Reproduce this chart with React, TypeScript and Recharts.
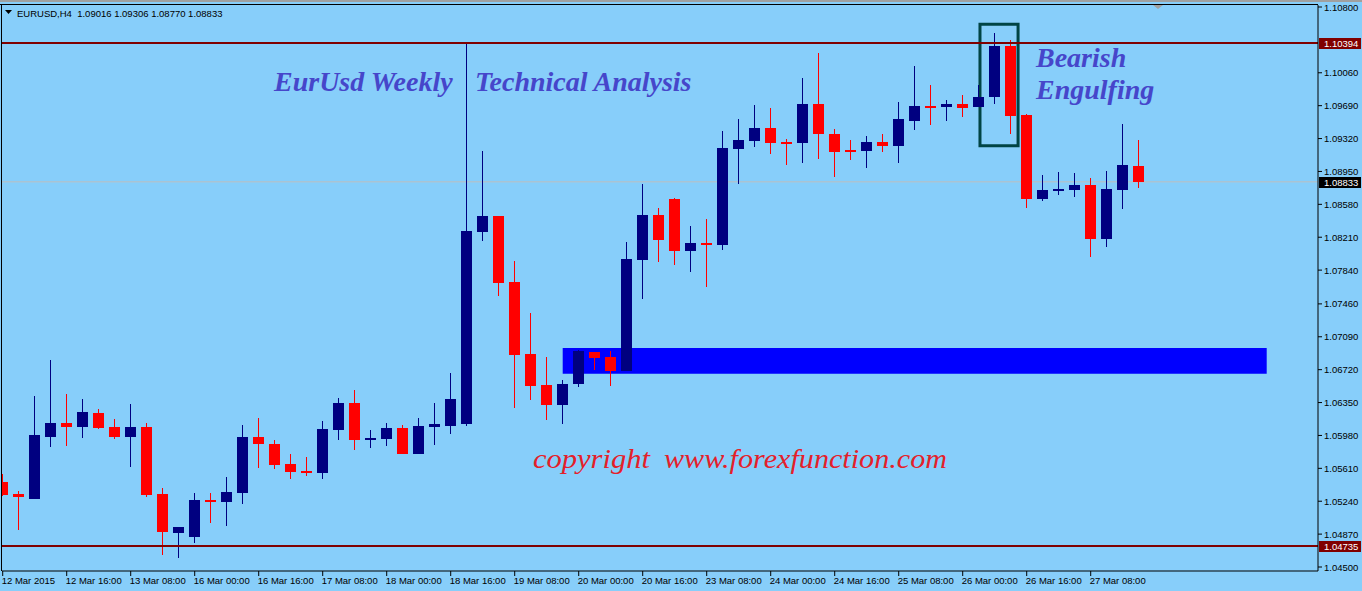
import { ComposedChart, Bar, XAxis, YAxis, ReferenceLine, ReferenceArea } from "recharts"

// EURUSD H4, 12 Mar 2015 - 27 Mar 2015
const days = ["12 Mar", "13 Mar", "16 Mar", "17 Mar", "18 Mar", "19 Mar", "20 Mar", "23 Mar", "24 Mar", "25 Mar", "26 Mar", "27 Mar"]
const hours = ["00:00", "04:00", "08:00", "12:00", "16:00", "20:00"]
const times = days.flatMap((d) => hours.map((h) => `${d} ${h}`))

const opens = [
  1.05456, 1.05321, 1.05268, 1.05966, 1.0612, 1.06078, 1.06232, 1.06075, 1.05966, 1.06075,
  1.05321, 1.04886, 1.04841, 1.05254, 1.05231, 1.05336, 1.05962, 1.05884, 1.05659, 1.0558,
  1.05561, 1.06045, 1.06345, 1.05932, 1.05943, 1.06064, 1.05775, 1.06078, 1.0609, 1.06112,
  1.08272, 1.08449, 1.07706, 1.06896, 1.06547, 1.06326, 1.06562, 1.06919, 1.06862, 1.06705,
  1.07954, 1.0846, 1.0864, 1.08058, 1.08145, 1.08126, 1.09206, 1.09296, 1.09439, 1.09281,
  1.09273, 1.09709, 1.09371, 1.09191, 1.09183, 1.09281, 1.0924, 1.09521, 1.09686, 1.09678,
  1.09709, 1.09678, 1.09791, 1.10361, 1.09585, 1.08643, 1.0873, 1.08745, 1.08797, 1.08193,
  1.08745, 1.09016,
]
const highs = [
  1.05546, 1.05355, 1.06424, 1.06829, 1.06446, 1.0639, 1.06277, 1.06165, 1.06334, 1.0612,
  1.05389, 1.0495, 1.05332, 1.05332, 1.05512, 1.06097, 1.06176, 1.05929, 1.05771, 1.05737,
  1.06142, 1.06401, 1.06491, 1.06041, 1.0612, 1.06097, 1.06176, 1.06345, 1.06682, 1.10394,
  1.0918, 1.08449, 1.07942, 1.07357, 1.06862, 1.06604, 1.06941, 1.06919, 1.0693, 1.08156,
  1.08809, 1.08539, 1.08651, 1.08336, 1.08415, 1.09405, 1.0954, 1.09697, 1.09664, 1.09315,
  1.10001, 1.10282, 1.09427, 1.09304, 1.09349, 1.09371, 1.09731, 1.10136, 1.09922, 1.09754,
  1.0981, 1.09922, 1.10507, 1.10429, 1.09596, 1.0891, 1.08944, 1.08932, 1.08876, 1.08955,
  1.09484, 1.09306,
]
const lows = [
  1.05299, 1.04916, 1.05265, 1.0585, 1.05865, 1.05955, 1.06056, 1.05943, 1.05628, 1.05291,
  1.04635, 1.04605, 1.04773, 1.04998, 1.04961, 1.05212, 1.05617, 1.05606, 1.05493, 1.05527,
  1.05493, 1.05932, 1.0582, 1.05842, 1.05865, 1.0577, 1.05775, 1.05876, 1.06, 1.0609,
  1.08171, 1.07552, 1.06292, 1.06382, 1.06157, 1.06112, 1.06528, 1.0672, 1.0654, 1.06705,
  1.07515, 1.07931, 1.07897, 1.07822, 1.07653, 1.0807, 1.08812, 1.09228, 1.0915, 1.09026,
  1.09048, 1.09093, 1.08891, 1.09082, 1.08992, 1.09172, 1.09048, 1.0942, 1.09476, 1.09521,
  1.09566, 1.09675, 1.09712, 1.09375, 1.08542, 1.08621, 1.08688, 1.08666, 1.07991, 1.08103,
  1.08531, 1.0877,
]
const closes = [
  1.0531, 1.05287, 1.05985, 1.0612, 1.06078, 1.06244, 1.06067, 1.05966, 1.06075, 1.05313,
  1.04897, 1.0495, 1.05254, 1.05231, 1.05344, 1.05962, 1.05884, 1.05651, 1.05572, 1.05557,
  1.06052, 1.06345, 1.05932, 1.05951, 1.06064, 1.05775, 1.06086, 1.06109, 1.0639, 1.0828,
  1.08449, 1.07698, 1.06888, 1.0654, 1.06326, 1.06559, 1.0693, 1.06855, 1.06705, 1.07965,
  1.0846, 1.08179, 1.08058, 1.08145, 1.08122, 1.09214, 1.09304, 1.09439, 1.09273, 1.09262,
  1.09709, 1.09375, 1.09172, 1.09172, 1.09281, 1.0924, 1.0954, 1.09686, 1.09667, 1.09709,
  1.09667, 1.09787, 1.10361, 1.09577, 1.08643, 1.08741, 1.08752, 1.08797, 1.08193, 1.08752,
  1.09022, 1.08833,
]

const xTicks = [0, 4, 8, 12, 16, 20, 24, 28, 32, 36, 40, 44, 48, 52, 56, 60, 64, 68]
const yTicks = [
  1.108, 1.1006, 1.0969, 1.0932, 1.0895, 1.0858, 1.0821, 1.0784, 1.0746,
  1.0709, 1.0672, 1.0635, 1.0598, 1.0561, 1.0524, 1.0487, 1.045,
]

const resistance = 1.10394
const support = 1.04735
const lastPrice = 1.08833
// demand zone and pattern box, in bar index / price units
const zoneBars = [35, 79]
const zonePrices = [1.06675, 1.06964]
const boxBars = [61.08, 63.46]
const boxPrices = [1.0924, 1.10605]

const BULL = "#000080"
const BEAR = "#FF0000"
const BG = "#87CEFA"
const AXIS_FONT = "'Liberation Sans', Arial, sans-serif"

const data = times.map((t, i) => ({
  i,
  time: t,
  open: opens[i],
  high: highs[i],
  low: lows[i],
  close: closes[i],
}))

function Candle(props: any) {
  const { x, y, width, height, payload } = props
  if (x == null || y == null || !payload) return null
  const { open, close, high, low } = payload
  const top = Math.min(y, y + height)
  const span = Math.abs(height)
  const ppu = span / (high - low)
  const cx = x + width / 2
  const left = Math.round(cx - 5.5)
  const color = close >= open ? BULL : BEAR
  const bTop = Math.round(top + (high - Math.max(open, close)) * ppu)
  const bBot = Math.round(top + (high - Math.min(open, close)) * ppu)
  return (
    <g>
      <rect x={left + 5} y={Math.round(top)} width={1} height={Math.max(Math.round(span), 1)} fill={color} />
      <rect x={left} y={bTop} width={11} height={Math.max(bBot - bTop, 2)} fill={color} />
    </g>
  )
}

function PriceTick({ x, y, payload }: any) {
  return (
    <g>
      <line x1={x} x2={x + 4} y1={y} y2={y} stroke="#000" />
      <text x={x + 6} y={y + 3.5} fontSize={9.5} fontFamily={AXIS_FONT} fill="#000">
        {Number(payload.value).toFixed(5)}
      </text>
    </g>
  )
}

function TimeTick({ x, y, payload }: any) {
  const idx = payload.value
  const label = idx === 0 ? "12 Mar 2015" : times[idx]
  return (
    <g>
      <line x1={x} x2={x} y1={y} y2={y + 5} stroke="#000" />
      <text x={x - 1} y={y + 13} fontSize={9.5} fontFamily={AXIS_FONT} fill="#000">
        {label}
      </text>
    </g>
  )
}

function PriceTag({ viewBox, text, bg }: any) {
  if (!viewBox) return null
  const right = viewBox.x + viewBox.width
  const yy = Math.round(viewBox.y + (viewBox.height || 0) / 2)
  return (
    <g>
      <rect x={right + 1} y={yy - 5} width={42} height={11} fill={bg} />
      <text x={right + 6} y={yy + 3.5} fontSize={9.5} fontFamily={AXIS_FONT} fill="#fff">
        {text}
      </text>
    </g>
  )
}

export default function App() {
  return (
    <div style={{ position: "absolute", left: 0, top: 0, width: 1362, height: 591, background: BG, overflow: "hidden" }}>
      <ComposedChart width={1362} height={591} data={data} margin={{ top: 5, right: 0, left: 2, bottom: 0 }}>
        <XAxis
          dataKey="i"
          type="number"
          domain={[-0.044, 82.206]}
          allowDataOverflow
          ticks={xTicks}
          interval={0}
          height={20}
          tickSize={0}
          tickMargin={0}
          axisLine={{ stroke: "#000" }}
          tick={<TimeTick />}
        />
        <YAxis
          orientation="right"
          type="number"
          domain={[1.04455, 1.108225]}
          allowDataOverflow
          ticks={yTicks}
          interval={0}
          width={44}
          tickSize={0}
          tickMargin={0}
          axisLine={{ stroke: "#000" }}
          tick={<PriceTick />}
        />
        <ReferenceArea
          x1={zoneBars[0]}
          x2={zoneBars[1]}
          y1={zonePrices[0]}
          y2={zonePrices[1]}
          fill="#0000FF"
          fillOpacity={1}
          stroke="none"
        />
        {/* bid line sits behind the candles, as in the terminal */}
        <ReferenceLine
          y={lastPrice}
          stroke="#BEBEBE"
          strokeWidth={1}
          zIndex={100}
          label={(p: any) => <PriceTag {...p} text={lastPrice.toFixed(5)} bg="#000" />}
        />
        <ReferenceLine
          y={resistance}
          stroke="#800000"
          strokeWidth={2}
          label={(p: any) => <PriceTag {...p} text={resistance.toFixed(5)} bg="#800000" />}
        />
        <ReferenceLine
          y={support}
          stroke="#800000"
          strokeWidth={2}
          label={(p: any) => <PriceTag {...p} text={support.toFixed(5)} bg="#800000" />}
        />
        <Bar dataKey={(d: any) => [d.low, d.high]} barSize={11} shape={<Candle />} isAnimationActive={false} />
        <ReferenceArea
          x1={boxBars[0]}
          x2={boxBars[1]}
          y1={boxPrices[0]}
          y2={boxPrices[1]}
          fill="none"
          stroke="#004444"
          strokeWidth={3}
        />
      </ComposedChart>
      <svg width={1362} height={591} style={{ position: "absolute", left: 0, top: 0, pointerEvents: "none" }}>
        <rect x={0} y={0} width={1362} height={2} fill="#A0A0A0" />
        <line x1={0} x2={1318} y1={4.5} y2={4.5} stroke="#000" />
        <line x1={1.5} x2={1.5} y1={4} y2={571} stroke="#000" />
        <polygon points="1153,5 1163,5 1158,9" fill="#A0A0A0" />
        <polygon points="5,10 12,10 8.5,14" fill="#000" />
        <text x={17} y={16.5} fontSize={9.5} fontFamily={AXIS_FONT} fill="#000" xmlSpace="preserve">
          {"EURUSD,H4  1.09016 1.09306 1.08770 1.08833"}
        </text>
        <g fontFamily="'Liberation Serif', 'Times New Roman', serif" fontStyle="italic" fontWeight="bold" fontSize={28} fill="#4646CA">
          <text x={274} y={90.5}>EurUsd Weekly</text>
          <text x={475} y={90.5}>Technical Analysis</text>
          <text x={1036} y={66.5}>Bearish</text>
          <text x={1036} y={98.5}>Engulfing</text>
        </g>
        <g fontFamily="'Liberation Serif', 'Times New Roman', serif" fontStyle="italic" fontSize={27} fill="#E4202A">
          <text x={533} y={468} textLength={117} lengthAdjust="spacingAndGlyphs">copyright</text>
          <text x={664} y={468} textLength={283} lengthAdjust="spacingAndGlyphs">www.forexfunction.com</text>
        </g>
      </svg>
    </div>
  )
}
